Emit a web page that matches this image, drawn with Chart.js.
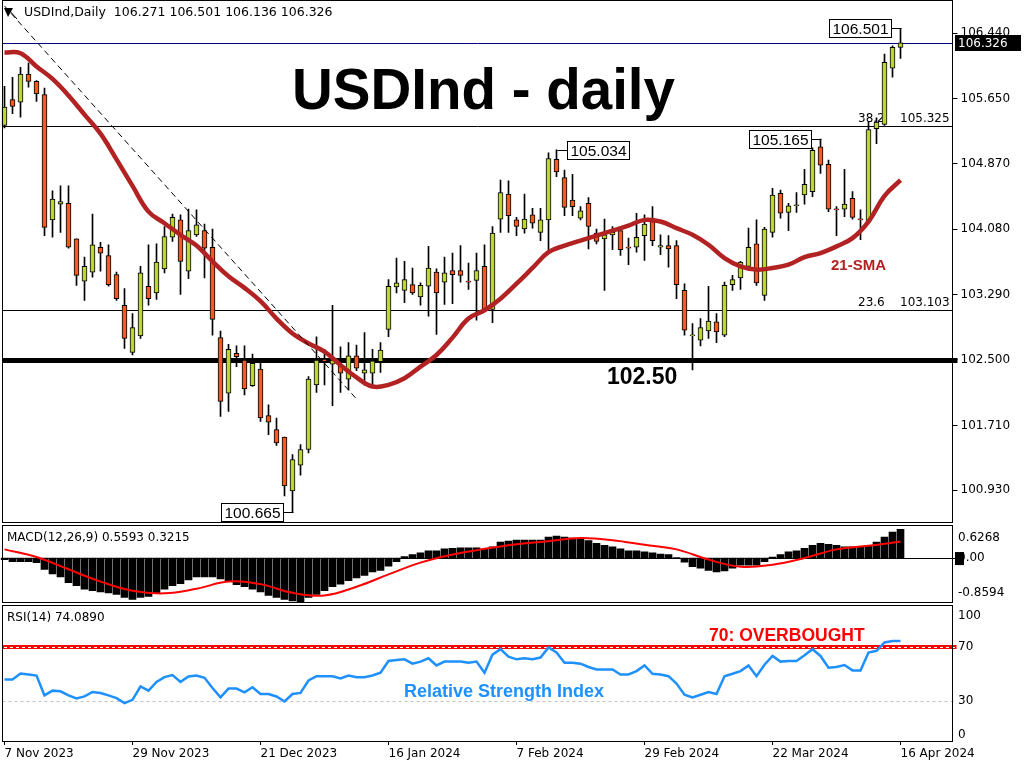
<!DOCTYPE html>
<html>
<head>
<meta charset="utf-8">
<title>USDInd - daily</title>
<script src="https://cdn.jsdelivr.net/npm/chart.js@4.4.1/dist/chart.umd.min.js"></script>
<style>
  html, body { margin: 0; padding: 0; background: #fff; }
  #wrap { position: relative; width: 1024px; height: 768px; overflow: hidden; background: #fff; }
  canvas { position: absolute; left: 0; }
</style>
</head>
<body>
<div id="wrap">
  <canvas id="priceChart" width="1024" height="524" style="top:0px"></canvas>
  <canvas id="macdChart" width="1024" height="79" style="top:524px"></canvas>
  <canvas id="rsiChart" width="1024" height="165" style="top:603px"></canvas>
</div>
<script>
// ---- data ----
const dateText = ["7 Nov 2023", "29 Nov 2023", "21 Dec 2023", "16 Jan 2024", "7 Feb 2024", "29 Feb 2024", "22 Mar 2024", "16 Apr 2024"];
const dateIdx = [0, 16, 32, 48, 64, 80, 96, 112];

const opens = [
  105.33, 105.64, 105.61, 105.95, 105.86, 105.70, 104.19, 104.38, 104.39, 103.96,
  103.45, 103.56, 103.86, 103.76, 103.53, 103.16, 102.59, 102.79, 103.39, 103.31,
  103.60, 103.98, 104.19, 103.57, 104.01, 104.06, 103.86, 102.77, 102.10, 102.58,
  102.50, 102.19, 102.39, 101.83, 101.66, 101.57, 100.92, 101.23, 101.42, 102.20,
  102.51, 102.45, 102.44, 102.27, 102.55, 102.34, 102.34, 102.48, 102.87, 103.38,
  103.34, 103.41, 103.26, 103.39, 103.56, 103.44, 103.58, 103.58, 103.45, 103.46,
  103.63, 103.11, 104.20, 104.50, 104.19, 104.08, 104.25, 104.04, 104.19, 104.92,
  104.70, 104.43, 104.21, 104.39, 104.03, 103.96, 104.01, 104.06, 103.86, 103.86,
  104.00, 104.17, 103.86, 103.88, 103.88, 103.34, 102.79, 102.74, 102.85, 102.96,
  102.80, 103.41, 103.49, 103.63, 103.90, 103.28, 104.04, 104.51, 104.28, 104.36,
  104.49, 104.53, 105.07, 104.86, 104.32, 104.32, 104.45, 104.20, 104.17, 105.29,
  105.34, 106.02, 106.271
];
const highs = [
  105.80, 105.91, 106.03, 106.08, 105.87, 105.78, 104.54, 104.60, 104.60, 103.96,
  103.74, 104.26, 103.92, 103.89, 103.56, 103.36, 103.06, 103.63, 103.89, 103.90,
  104.11, 104.26, 104.25, 104.32, 104.31, 104.14, 104.08, 102.85, 102.69, 102.67,
  102.67, 102.57, 102.50, 101.96, 101.80, 101.57, 101.36, 101.48, 102.30, 102.78,
  102.63, 103.16, 102.66, 102.71, 102.68, 102.83, 102.63, 102.71, 103.47, 103.73,
  103.69, 103.61, 103.43, 103.87, 103.60, 103.74, 103.79, 103.88, 103.67, 103.79,
  103.89, 104.11, 104.67, 104.66, 104.22, 104.50, 104.33, 104.33, 105.00, 105.034,
  104.79, 104.74, 104.35, 104.46, 104.08, 104.20, 104.11, 104.08, 103.97, 104.27,
  104.25, 104.35, 104.01, 104.00, 103.94, 103.42, 102.94, 103.00, 103.39, 103.06,
  103.44, 103.52, 103.69, 104.09, 104.19, 104.10, 104.57, 104.55, 104.39, 104.52,
  104.80, 105.06, 105.165, 104.91, 104.35, 104.80, 104.53, 104.31, 105.38, 105.42,
  106.19, 106.29, 106.501
];
const lows = [
  105.30, 105.47, 105.43, 105.79, 105.62, 104.00, 103.98, 104.04, 103.85, 103.40,
  103.22, 103.50, 103.57, 103.39, 103.22, 102.64, 102.56, 102.76, 103.16, 103.23,
  103.55, 103.93, 103.29, 103.48, 103.99, 103.49, 102.80, 101.82, 101.88, 102.42,
  102.08, 102.18, 101.76, 101.60, 101.47, 100.86, 100.665, 101.11, 101.38, 102.11,
  102.20, 101.95, 102.11, 102.14, 102.37, 102.20, 102.20, 102.35, 102.78, 103.31,
  103.19, 103.29, 103.16, 103.03, 102.81, 103.17, 103.18, 103.44, 103.35, 102.98,
  103.10, 102.95, 104.04, 104.04, 104.00, 104.03, 104.09, 103.94, 103.80, 104.71,
  104.24, 104.24, 104.19, 103.84, 103.90, 103.34, 103.83, 103.76, 103.65, 103.80,
  103.70, 103.88, 103.77, 103.62, 103.24, 102.80, 102.38, 102.67, 102.76, 102.71,
  102.78, 103.34, 103.35, 103.60, 103.40, 103.22, 103.98, 104.21, 104.06, 104.28,
  104.38, 104.47, 104.75, 104.29, 104.00, 104.23, 104.20, 103.95, 104.15, 105.11,
  105.33, 105.91, 106.136
];
const closes = [
  105.55, 105.56, 105.95, 105.86, 105.71, 104.10, 104.44, 104.41, 103.86, 103.52,
  103.63, 103.89, 103.79, 103.41, 103.24, 102.76, 102.89, 103.55, 103.24, 103.68,
  103.99, 104.22, 103.69, 104.06, 104.13, 103.85, 102.99, 102.00, 102.63, 102.54,
  102.15, 102.46, 101.80, 101.75, 101.50, 100.98, 101.30, 101.42, 102.27, 102.50,
  102.48, 102.50, 102.34, 102.55, 102.40, 102.38, 102.49, 102.62, 103.39, 103.43,
  103.47, 103.31, 103.40, 103.61, 103.31, 103.55, 103.53, 103.52, 103.44, 103.58,
  103.11, 104.03, 104.52, 104.24, 104.11, 104.20, 104.15, 104.19, 104.93, 104.77,
  104.34, 104.35, 104.30, 104.11, 103.93, 104.01, 104.04, 103.83, 103.85, 103.98,
  104.14, 103.94, 103.88, 103.84, 103.41, 102.86, 102.80, 102.89, 102.97, 102.84,
  103.40, 103.47, 103.68, 103.86, 103.43, 104.08, 104.49, 104.27, 104.36, 104.37,
  104.62, 105.03, 104.85, 104.32, 104.31, 104.38, 104.22, 104.19, 105.28, 105.37,
  106.09, 106.27, 106.326
];

// 21-SMA, read every second bar
const smaAt = [0, 2, 4, 6, 8, 10, 12, 14, 16, 18, 20, 22, 24, 26, 28, 30, 32, 34, 36, 38, 40, 42, 44, 46, 48, 50, 52, 54, 56,
  58, 60, 62, 64, 66, 68, 70, 72, 74, 76, 78, 80, 82, 84, 86, 88, 90, 92, 94, 96, 98, 100, 102, 104, 106, 108, 110, 112];
const smaVal = [106.21, 106.20, 106.04, 105.89, 105.69, 105.46, 105.23, 104.92, 104.60, 104.29, 104.15, 104.01, 103.88, 103.69, 103.51,
  103.37, 103.21, 103.00, 102.82, 102.70, 102.60, 102.44, 102.29, 102.18, 102.20, 102.28, 102.42, 102.56, 102.77,
  103.00, 103.10, 103.24, 103.42, 103.61, 103.80, 103.88, 103.94, 104.00, 104.06, 104.12, 104.19, 104.17, 104.09,
  104.01, 103.89, 103.73, 103.63, 103.59, 103.61, 103.65, 103.74, 103.79, 103.87, 103.97, 104.17, 104.48, 104.67];

// hand-drawn trendline end points
const trendAt = [0, 44];
const trendVal = [106.77, 102.03];

// horizontal levels
const levelValues = [106.326, 105.325, 103.103, 102.50];
const fibText = ["38.2", "23.6"];
const fibValues = [105.325, 103.103];
const priceTicks = [100.930, 101.710, 102.500, 103.290, 104.080, 104.870, 105.650, 106.440];
const lastPrice = 106.326;

// price callouts
const calloutIdx = [69, 102, 112, 36];
const calloutVal = [105.034, 105.165, 106.501, 100.665];
const calloutSide = ["right", "left", "left", "left"];

// MACD(12,26,9)
const macdMain = [
  -0.03, -0.07, -0.07, -0.07, -0.09, -0.22, -0.31, -0.37, -0.48, -0.54,
  -0.61, -0.64, -0.66, -0.68, -0.71, -0.77, -0.81, -0.77, -0.75, -0.68,
  -0.61, -0.54, -0.50, -0.43, -0.37, -0.37, -0.37, -0.41, -0.46, -0.52,
  -0.56, -0.61, -0.66, -0.73, -0.77, -0.81, -0.84, -0.86, -0.77, -0.71,
  -0.64, -0.56, -0.51, -0.44, -0.39, -0.34, -0.27, -0.24, -0.16, -0.07,
  0.03, 0.07, 0.10, 0.14, 0.14, 0.18, 0.19, 0.20, 0.20, 0.20,
  0.17, 0.22, 0.31, 0.33, 0.35, 0.35, 0.35, 0.35, 0.41, 0.43,
  0.41, 0.39, 0.37, 0.34, 0.29, 0.25, 0.22, 0.18, 0.14, 0.14,
  0.12, 0.10, 0.08, 0.07, 0.01, -0.08, -0.17, -0.20, -0.24, -0.27,
  -0.25, -0.20, -0.14, -0.14, -0.14, -0.07, 0.02, 0.07, 0.12, 0.14,
  0.19, 0.25, 0.29, 0.27, 0.25, 0.22, 0.22, 0.22, 0.25, 0.31,
  0.41, 0.51, 0.5593
];
const signalAt = [0, 4, 8, 12, 16, 20, 24, 28, 32, 36, 40, 44, 48, 52, 56, 60, 64, 68, 72, 76, 80, 84, 88, 92, 96, 100, 104, 108, 112];
const signalVal = [0.17, 0.02, -0.22, -0.46, -0.64, -0.69, -0.60, -0.46, -0.51, -0.68, -0.73, -0.56, -0.32, -0.09, 0.07,
  0.18, 0.27, 0.33, 0.39, 0.35, 0.26, 0.17, -0.03, -0.17, -0.13, 0.00, 0.17, 0.24, 0.3215];
const macdScaleLabels = [0.6268, 0, -0.8594];

// RSI(14)
const rsiValues = [
  45.5, 45.5, 50.0, 49.3, 48.5, 33.8, 37.3, 36.8, 33.8, 31.5,
  33.0, 36.3, 35.6, 33.8, 31.8, 28.1, 30.5, 40.5, 37.3, 43.8,
  47.3, 48.8, 43.8, 47.8, 48.5, 46.8, 39.3, 32.3, 38.8, 38.8,
  36.0, 39.8, 34.8, 34.8, 33.0, 29.3, 34.8, 35.6, 44.8, 48.0,
  48.0, 48.0, 46.3, 48.5, 47.3, 47.3, 48.5, 50.6, 59.3, 60.0,
  60.5, 57.3, 58.8, 61.3, 56.0, 58.8, 58.8, 58.8, 58.0, 58.8,
  50.6, 64.0, 68.0, 62.5, 60.5, 61.3, 60.5, 61.8, 69.3, 65.6,
  58.0, 58.0, 57.3, 54.8, 53.0, 53.0, 53.0, 49.3, 49.3, 51.8,
  56.0, 49.8, 49.3, 48.0, 42.5, 34.3, 32.3, 34.3, 36.3, 34.8,
  48.0, 49.8, 51.8, 56.0, 48.0, 56.5, 63.0, 58.8, 59.3, 59.3,
  63.5, 68.0, 63.0, 54.3, 54.8, 56.3, 52.3, 52.3, 65.5, 66.8,
  73.0, 74.0, 74.089
];
const rsiLevels = [70, 30];
const rsiScaleLabels = [100, 70, 30, 0];

// ---- layout ----
const SLOTS = 119;          // 113 bars + empty space on the right
const AXIS_W = 71.5;
const BULL = "#bcd634";
const BEAR = "#f25a1f";

Chart.defaults.font.family = '"DejaVu Sans", sans-serif';
Chart.defaults.font.size = 12;
Chart.defaults.color = "#000";
Chart.defaults.animation = false;
Chart.defaults.events = [];
Chart.defaults.plugins.legend.display = false;
Chart.defaults.plugins.tooltip.enabled = false;

const slotLabels = [];
for (let i = 0; i < SLOTS; i++) {
  const k = dateIdx.indexOf(i);
  slotLabels.push(k >= 0 ? dateText[k] : "");
}

function sparse(at, vals) {
  const out = new Array(closes.length).fill(null);
  at.forEach((i, k) => { out[i] = vals[k]; });
  return out;
}

function fitRight(s) {
  s.width = AXIS_W;
  s.paddingTop = 0;
  s.paddingBottom = 0;
}

function frame(ctx, top, h) {
  ctx.strokeStyle = "#000";
  ctx.lineWidth = 1;
  ctx.setLineDash([]);
  ctx.strokeRect(2.5, top, 950, h);
}

// ---- price panel ----
const pricePlugin = {
  id: "pricePlugin",
  beforeDatasetsDraw(chart) {
    const { ctx, chartArea: a, scales: { y } } = chart;
    const look = [["#000080", 1], ["#000", 1], ["#000", 1], ["#000", 5]];
    ctx.save();
    levelValues.forEach((v, k) => {
      let py = y.getPixelForValue(v);
      py = look[k][1] % 2 ? Math.round(py) + 0.5 : Math.round(py);
      ctx.strokeStyle = look[k][0];
      ctx.lineWidth = look[k][1];
      ctx.beginPath();
      ctx.moveTo(2.5, py);
      ctx.lineTo(a.right + (k === 3 ? 5 : 0), py);
      ctx.stroke();
    });
    // fibonacci texts
    ctx.font = '12px "DejaVu Sans"';
    ctx.fillStyle = "#000";
    ctx.textBaseline = "alphabetic";
    fibValues.forEach((v, k) => {
      const py = y.getPixelForValue(v) - 4;
      ctx.fillText(fibText[k], 858, py);
      ctx.fillText(v.toFixed(3), 900, py);
    });
    ctx.restore();
  },
  afterDraw(chart) {
    const { ctx, scales: { x, y } } = chart;
    ctx.save();
    frame(ctx, 0.5, 522);

    // header
    ctx.fillStyle = "#000";
    ctx.beginPath();
    ctx.moveTo(4, 8); ctx.lineTo(13, 8); ctx.lineTo(8, 17); ctx.closePath(); ctx.fill();
    ctx.lineWidth = 1;
    ctx.beginPath(); ctx.moveTo(8, 9); ctx.lineTo(17, 19); ctx.stroke();
    ctx.font = '12.5px "DejaVu Sans"';
    ctx.textBaseline = "middle";
    ctx.fillText("USDInd,Daily  " + [opens[112], highs[112], lows[112], closes[112]].map(v => v.toFixed(3)).join(" "), 24, 13);

    // title and notes
    ctx.textBaseline = "alphabetic";
    ctx.font = 'bold 56.5px "Liberation Sans"';
    ctx.fillText("USDInd - daily", 292, 109);
    ctx.font = 'bold 23px "Liberation Sans"';
    ctx.fillText("102.50", 607, y.getPixelForValue(102.5) + 24);
    ctx.fillStyle = "#b22222";
    ctx.font = 'bold 15px "Liberation Sans"';
    ctx.fillText("21-SMA", 831, 270);

    // callouts
    ctx.font = '15.5px "Liberation Sans"';
    ctx.strokeStyle = "#000";
    ctx.lineWidth = 1;
    calloutIdx.forEach((idx, k) => {
      const bx = Math.round(x.getPixelForValue(idx)) + 0.5;
      const by = Math.round(y.getPixelForValue(calloutVal[k])) + 0.5;
      const text = calloutVal[k].toFixed(3);
      const w = Math.round(ctx.measureText(text).width) + 6;
      const h = 18;
      const left = calloutSide[k] === "right" ? bx + 10 : bx - 10 - w;
      ctx.beginPath();
      ctx.moveTo(bx, by);
      ctx.lineTo(calloutSide[k] === "right" ? left : left + w, by);
      ctx.stroke();
      ctx.fillStyle = "#fff";
      ctx.fillRect(left, by - h / 2, w, h);
      ctx.strokeRect(left, by - h / 2, w, h);
      ctx.fillStyle = "#000";
      ctx.textBaseline = "middle";
      ctx.fillText(text, left + 3, by + 1);
    });

    // last price tag on the axis
    const ly = Math.round(y.getPixelForValue(lastPrice));
    ctx.fillStyle = "#000";
    ctx.fillRect(955, ly - 8, 66, 16);
    ctx.fillStyle = "#fff";
    ctx.font = '12px "DejaVu Sans"';
    ctx.textBaseline = "middle";
    ctx.fillText(lastPrice.toFixed(3), 958, ly + 1);
    ctx.restore();
  }
};

new Chart(document.getElementById("priceChart"), {
  type: "bar",
  data: {
    labels: slotLabels,
    datasets: [
      {
        type: "line", data: sparse(trendAt, trendVal), spanGaps: true,
        borderColor: "#000", borderWidth: 1, borderDash: [6, 4], pointRadius: 0, order: 0
      },
      {
        type: "line", data: sparse(smaAt, smaVal), spanGaps: true, tension: 0.4,
        borderColor: "#b22222", borderWidth: 4.5, pointRadius: 0, order: 1
      },
      {
        data: opens.map((o, i) => [o, closes[i]]),
        backgroundColor: opens.map((o, i) => closes[i] >= o ? BULL : BEAR),
        borderColor: "#000", borderWidth: 1, borderSkipped: false,
        barThickness: 5, minBarLength: 1, grouped: false, order: 2
      },
      {
        data: lows.map((l, i) => [l, highs[i]]),
        backgroundColor: "#000", barThickness: 1, grouped: false, order: 3
      }
    ]
  },
  options: {
    responsive: false,
    layout: { padding: { top: 2, bottom: 2, left: 0.5, right: 0 } },
    scales: {
      x: { display: false, offset: true },
      y: {
        position: "right", min: 100.546, max: 106.818,
        afterBuildTicks(s) { s.ticks = priceTicks.map(v => ({ value: v })); },
        afterFit: fitRight,
        border: { display: false },
        grid: { drawOnChartArea: false, tickLength: 5, color: "#000" },
        ticks: { padding: 3, callback: v => v.toFixed(3) }
      }
    }
  },
  plugins: [pricePlugin]
});

// ---- MACD panel ----
const macdPlugin = {
  id: "macdPlugin",
  beforeDatasetsDraw(chart) {
    const { ctx, chartArea: a, scales: { y } } = chart;
    ctx.save();
    const zy = Math.round(y.getPixelForValue(0)) + 0.5;
    ctx.strokeStyle = "#000";
    ctx.lineWidth = 1;
    ctx.beginPath(); ctx.moveTo(2.5, zy); ctx.lineTo(a.right + 4, zy); ctx.stroke();
    ctx.restore();
  },
  afterDraw(chart) {
    const { ctx, chartArea: a, scales: { y } } = chart;
    ctx.save();
    frame(ctx, 1.5, 77);
    ctx.fillStyle = "#000";
    ctx.font = '12px "DejaVu Sans"';
    ctx.textBaseline = "middle";
    ctx.fillText("MACD(12,26,9) " + macdMain[macdMain.length - 1].toFixed(4) + " " + signalVal[signalVal.length - 1].toFixed(4), 7, 14);
    macdScaleLabels.forEach(v => {
      const py = Math.min(Math.max(y.getPixelForValue(v), a.top + 12), a.bottom - 9);
      ctx.fillStyle = "#000";
      ctx.fillText(v === 0 ? "0.00" : String(v), 958, py);
      if (v === 0) ctx.fillRect(955, py - 6, 9, 13);
    });
    ctx.restore();
  }
};

new Chart(document.getElementById("macdChart"), {
  type: "bar",
  data: {
    labels: slotLabels,
    datasets: [
      {
        type: "line", data: sparse(signalAt, signalVal), spanGaps: true, tension: 0.4,
        borderColor: "#ff0000", borderWidth: 2, pointRadius: 0, order: 0
      },
      { data: macdMain, backgroundColor: "#000", barThickness: 7, order: 1 }
    ]
  },
  options: {
    responsive: false,
    layout: { padding: { top: 2, bottom: 1, left: 0.5, right: 0 } },
    scales: {
      x: { display: false, offset: true },
      y: {
        position: "right", min: -0.8594, max: 0.6268,
        afterFit: fitRight,
        border: { display: false },
        grid: { display: false },
        ticks: { display: false }
      }
    }
  },
  plugins: [macdPlugin]
});

// ---- RSI panel ----
const rsiPlugin = {
  id: "rsiPlugin",
  beforeDatasetsDraw(chart) {
    const { ctx, chartArea: a, scales: { y } } = chart;
    ctx.save();
    const y70 = Math.round(y.getPixelForValue(rsiLevels[0]));
    ctx.strokeStyle = "#ff0000";
    ctx.lineWidth = 4;
    ctx.beginPath(); ctx.moveTo(2.5, y70); ctx.lineTo(a.right + 4, y70); ctx.stroke();
    ctx.strokeStyle = "#fff";
    ctx.lineWidth = 1;
    ctx.setLineDash([3, 3]);
    ctx.beginPath(); ctx.moveTo(4, y70 + 0.5); ctx.lineTo(a.right + 3, y70 + 0.5); ctx.stroke();
    const y30 = Math.round(y.getPixelForValue(rsiLevels[1])) + 0.5;
    ctx.strokeStyle = "#c0c0c0";
    ctx.beginPath(); ctx.moveTo(2.5, y30); ctx.lineTo(a.right + 4, y30); ctx.stroke();
    ctx.restore();
  },
  afterDraw(chart) {
    const { ctx, chartArea: a, scales: { y } } = chart;
    ctx.save();
    frame(ctx, 2.5, 136);
    ctx.fillStyle = "#000";
    ctx.font = '12px "DejaVu Sans"';
    ctx.textBaseline = "middle";
    ctx.fillText("RSI(14) " + rsiValues[rsiValues.length - 1].toFixed(4), 7, 15);
    rsiScaleLabels.forEach(v => {
      const py = Math.min(Math.max(y.getPixelForValue(v), a.top + 10), a.bottom - 6);
      ctx.fillText(String(v), 958, py);
    });
    ctx.textBaseline = "alphabetic";
    ctx.fillStyle = "#ff0000";
    ctx.font = 'bold 17.5px "Liberation Sans"';
    ctx.fillText("70: OVERBOUGHT", 709, 38);
    ctx.fillStyle = "#1e90ff";
    ctx.font = 'bold 18px "Liberation Sans"';
    ctx.fillText("Relative Strength Index", 404, 94);
    ctx.restore();
  }
};

new Chart(document.getElementById("rsiChart"), {
  type: "line",
  data: {
    labels: slotLabels,
    datasets: [
      { data: rsiValues, borderColor: "#1e90ff", borderWidth: 2.5, pointRadius: 0, tension: 0 }
    ]
  },
  options: {
    responsive: false,
    layout: { padding: { top: 3, bottom: 0, left: 0.5, right: 0 } },
    scales: {
      x: {
        offset: true,
        afterFit(s) { s.height = 27; s.paddingLeft = 0; s.paddingRight = 0; },
        border: { display: false },
        grid: { offset: false, drawOnChartArea: false, tickLength: 4, color: "#000" },
        ticks: {
          autoSkip: false, maxRotation: 0, minRotation: 0, align: "start", padding: 2,
          callback: (v, i) => slotLabels[i] || null
        }
      },
      y: {
        position: "right", min: 0, max: 100,
        afterFit: fitRight,
        border: { display: false },
        grid: { display: false },
        ticks: { display: false }
      }
    }
  },
  plugins: [rsiPlugin]
});
</script>
</body>
</html>
